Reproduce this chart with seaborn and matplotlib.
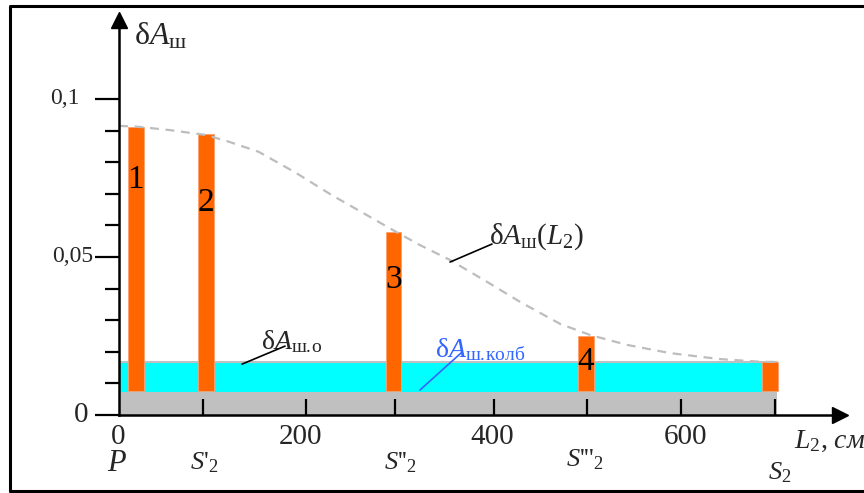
import matplotlib
matplotlib.use("Agg")
import matplotlib.pyplot as plt
import seaborn as sns
from matplotlib.lines import Line2D

# --- данные ---
bar_x = [18, 93, 293, 498, 695]
bar_top = [0.0911, 0.0889, 0.0579, 0.0250, 0.0169]
bar_bottom = 0.0077
bar_labels = ["1", "2", "3", "4", ""]
bar_width = 17

band_x = [0, 702]
gray_top = 0.0072
cyan_top = 0.0169

curve_x = [0, 21, 53, 93, 117, 149, 189, 227, 259, 296, 321, 353, 393,
           428, 471, 503, 542, 588, 641, 687, 702]
curve_y = [0.0915, 0.0912, 0.0902, 0.0886, 0.0865, 0.0833, 0.0766, 0.0696,
           0.0642, 0.0579, 0.0538, 0.0491, 0.0421, 0.0358, 0.0288, 0.0253,
           0.0222, 0.0196, 0.0177, 0.0168, 0.0168]

x_num_ticks = [0, 200, 400, 600]
x_num_labels = ["0", "200", "400", "600"]
s_ticks = [90, 295, 500, 700]
y_major = [0, 0.05, 0.1]
y_major_labels = ["0", "0,05", "0,1"]
y_minor = [0.01, 0.02, 0.03, 0.04, 0.06, 0.07, 0.08, 0.09]

sns.set_theme(style="white")
plt.rcParams["font.family"] = ["Liberation Serif", "DejaVu Serif"]
plt.rcParams["mathtext.fontset"] = "custom"
plt.rcParams["mathtext.rm"] = "Liberation Serif"
plt.rcParams["mathtext.it"] = "Liberation Serif:italic"
plt.rcParams["mathtext.bf"] = "Liberation Serif:bold"

fig = plt.figure(figsize=(8.64, 4.93), dpi=100)
ax = fig.add_axes([119 / 864, 78 / 493, 721 / 864, 395 / 493])
ax.set_xlim(0, 769.5)
ax.set_ylim(0, 0.125)
ax.set_axisbelow(False)

# полосы
ax.fill_between(band_x, 0, gray_top, color="#c0c0c0", lw=0, zorder=1)
ax.fill_between(band_x, gray_top, cyan_top, color="#00ffff", lw=0, zorder=1)
ax.plot(band_x, [cyan_top, cyan_top], color="#c0c0c0", lw=1.5, zorder=1.1)

# столбцы
heights = [t - bar_bottom for t in bar_top]
ax.bar(bar_x, heights, width=bar_width, bottom=bar_bottom,
       color="#ff6600", edgecolor="#ffa070", linewidth=0.6, zorder=2)
for x, lab, yy in zip(bar_x, bar_labels, [0.0744, 0.0671, 0.0427, 0.0168, 0]):
    if lab:
        ax.text(x, yy, lab, ha="center", va="center", fontsize=24,
                color="black", zorder=4)

# пунктирная кривая
sns.lineplot(x=curve_x, y=curve_y, ax=ax, color="#bdbdbd", lw=1.6,
             linestyle=(0, (4, 3)), zorder=3)

# оси
for side in ["top", "right"]:
    ax.spines[side].set_visible(False)
for side in ["left", "bottom"]:
    ax.spines[side].set_linewidth(1.8)
    ax.spines[side].set_color("black")
    ax.spines[side].set_zorder(5)
ax.plot([1], [0], marker=">", ms=11, color="black", transform=ax.transAxes,
        clip_on=False, zorder=6)
ax.plot([0], [1], marker="^", ms=11, color="black", transform=ax.transAxes,
        clip_on=False, zorder=6)

ax.set_xticks(sorted(x_num_ticks[1:] + s_ticks))
ax.set_xticklabels([])
ax.tick_params(axis="x", direction="in", length=11.5, width=1.6,
               color="black", bottom=True)
ax.set_yticks(y_major)
ax.set_yticklabels([])
ax.set_yticks(y_minor, minor=True)
ax.tick_params(axis="y", which="major", direction="out", length=17,
               width=1.6, color="black", left=True)
ax.tick_params(axis="y", which="minor", direction="out", length=10,
               width=1.6, color="black", left=True)
ax.grid(False)

# подписи осей
for y, lab, xr, fs in zip(y_major, y_major_labels, [-33, -27.7, -41.6],
                          [21, 17, 17]):
    ax.text(xr, y, lab, ha="right", va="center", fontsize=fs, clip_on=False)
for x, lab in zip([-1, 194, 398, 605], x_num_labels):
    ax.text(x, -0.0070, lab, ha="center", va="center", fontsize=21,
            clip_on=False)
ax.text(-2, -0.0152, "$P$", ha="center", va="center", fontsize=22,
        clip_on=False)
s_names = [r"$S$'$_\mathrm{2}$", r"$S$''$_\mathrm{2}$",
           r"$S$'''$_\mathrm{2}$", r"$S_\mathrm{2}$"]
for x, lab, y in zip([91, 300, 497, 705], s_names,
                     [-0.0152, -0.0152, -0.0140, -0.0184]):
    ax.text(x, y, lab, ha="center", va="center", fontsize=19, clip_on=False)
ax.text(758, -0.0082, r"$L_\mathrm{2}$, $см$", ha="center", va="center",
        fontsize=20, clip_on=False)
ax.text(16, 0.1174, r"$\mathrm{\delta}A_\mathrm{ш}$", ha="left",
        va="baseline", fontsize=23, clip_on=False)

# выноски
ax.text(184.6, 0.0231, r"$\mathrm{\delta}A_\mathrm{ш.\!о}$", ha="center",
        va="center", fontsize=20)
ax.plot([131.3, 177.2], [0.0161, 0.0218], color="black", lw=1.2, zorder=4)
ax.text(385.3, 0.0206, r"$\mathrm{\delta}A_\mathrm{ш.\!колб}$", ha="center",
        va="center", fontsize=20, color="#3366ff")
ax.plot([321.2, 366.1], [0.0079, 0.0199], color="#3366ff", lw=1.2, zorder=4)
ax.text(446, 0.0563,
        r"$\mathrm{\delta}A_\mathrm{ш}\mathrm{(}L_\mathrm{2}\mathrm{)}$",
        ha="center", va="center", fontsize=21)
ax.plot([353.3, 398.1], [0.0484, 0.0541], color="black", lw=1.2, zorder=4)

# рамка
fig.add_artist(Line2D([10 / 864, 10 / 864, 1.01], [2 / 493, 487.5 / 493,
                      487.5 / 493], color="black", lw=2.2,
                      transform=fig.transFigure))
fig.add_artist(Line2D([10 / 864, 1.01], [2 / 493, 2 / 493], color="black",
                      lw=2.2, transform=fig.transFigure))

fig.savefig("out.png", dpi=100)
